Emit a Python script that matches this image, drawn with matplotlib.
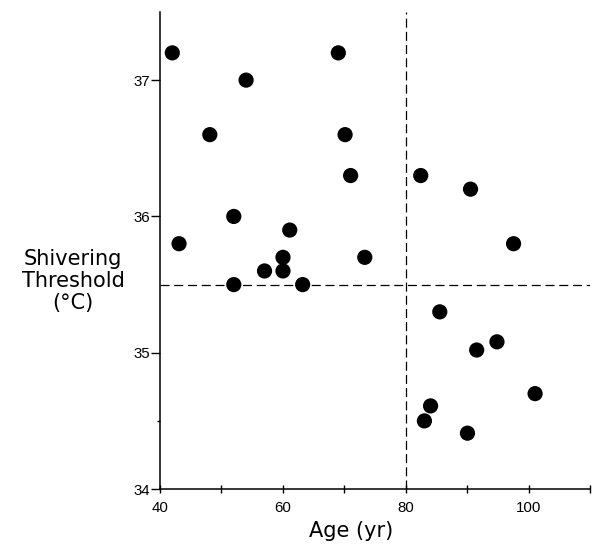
import matplotlib
matplotlib.use("Agg")
import matplotlib.pyplot as plt
from matplotlib.ticker import FixedLocator

# Age (yr) and shivering threshold (°C) for each subject
age = [42.0, 54.0, 48.1, 52.0, 43.1, 61.1, 60.0, 60.0, 57.0, 52.0, 63.2,
       69.0, 70.1, 71.0, 73.3, 82.4, 90.5, 97.5,
       85.5, 94.8, 91.5, 101.0, 84.0, 83.0, 90.0]
threshold = [37.2, 37.0, 36.6, 36.0, 35.8, 35.9, 35.7, 35.6, 35.6, 35.5, 35.5,
             37.2, 36.6, 36.3, 35.7, 36.3, 36.2, 35.8,
             35.3, 35.08, 35.02, 34.7, 34.61, 34.5, 34.41]

age_cutoff = 80
threshold_cutoff = 35.5

x_major = [40, 60, 80, 100]
x_minor = [50, 70, 90, 110]
y_major = [34, 35, 36, 37]
y_minor = [34.5]

plt.rcParams["lines.scale_dashes"] = False

fig = plt.figure(figsize=(5.97, 5.44), dpi=100)
ax = fig.add_axes([0.268, 0.101, 0.721, 0.877])

ax.axhline(threshold_cutoff, color="black", lw=0.9, dashes=(6.5, 3.4), zorder=1)
ax.axvline(age_cutoff, color="black", lw=0.9, dashes=(6.5, 3.0), zorder=1)
ax.scatter(age, threshold, s=120, color="black", edgecolors="none", zorder=3)

ax.set_xlim(40, 110)
ax.set_ylim(34, 37.5)

for side in ("top", "right"):
    ax.spines[side].set_visible(False)
for side in ("left", "bottom"):
    ax.spines[side].set_linewidth(1.1)

ax.xaxis.set_major_locator(FixedLocator(x_major))
ax.xaxis.set_minor_locator(FixedLocator(x_minor))
ax.yaxis.set_major_locator(FixedLocator(y_major))
ax.yaxis.set_minor_locator(FixedLocator(y_minor))

tick_font = {"family": "Liberation Sans", "size": 10.8}
ax.set_xticklabels([str(v) for v in x_major], fontdict=tick_font)
ax.set_yticklabels([str(v) for v in y_major], fontdict=tick_font)

ax.tick_params(axis="x", which="both", direction="inout", length=5.5, width=1.0, pad=6)
ax.tick_params(axis="y", which="major", direction="out", length=6.2, width=1.0, pad=1)
ax.tick_params(axis="y", which="minor", direction="out", length=2.2, width=1.0)

fig.text(351 / 597, 1 - 531 / 544, "Age (yr)", ha="center", va="center",
         fontsize=15, family="DejaVu Sans")
fig.text(73 / 597, 1 - 281 / 544, "Shivering\nThreshold\n(°C)", ha="center",
         va="center", multialignment="center", linespacing=1.15,
         fontsize=15, family="DejaVu Sans")

fig.savefig("out.png", dpi=100)
